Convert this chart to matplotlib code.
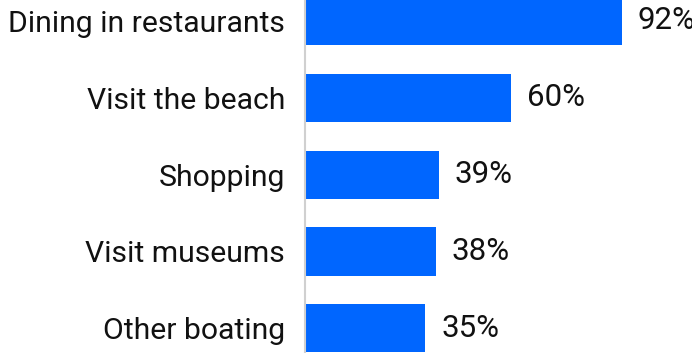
import matplotlib.pyplot as plt

# activities and share of respondents (%)
activities = ["Dining in restaurants", "Visit the beach", "Shopping",
              "Visit museums", "Other boating"]
shares = [92, 60, 39, 38, 35]

plt.rcParams['font.family'] = ['Roboto', 'DejaVu Sans']

fig = plt.figure(figsize=(6.92, 3.53), dpi=100)
ax = fig.add_axes([304.5 / 692, 0, 1 - 304.5 / 692, 1])

ypos = list(range(len(activities)))
ax.barh(ypos, shares, height=0.625, color='#0066FF')

for y, v in zip(ypos, shares):
    ax.annotate(f"{v}%", (v, y), xytext=(11.5, 0), textcoords='offset points',
                ha='left', va='center', fontsize=22.5, color='#111111')

ax.set_xlim(0, 112.4)
ax.set_ylim(4.32, -0.27)
ax.set_yticks(ypos)
ax.set_yticklabels(activities, fontsize=21.7, color='#111111')
ax.tick_params(axis='y', length=0, pad=14)
ax.set_xticks([])

for s in ['top', 'right', 'bottom']:
    ax.spines[s].set_visible(False)
ax.spines['left'].set_color('#d0d0d0')
ax.spines['left'].set_linewidth(1.5)

fig.savefig('out.png', dpi=100)
